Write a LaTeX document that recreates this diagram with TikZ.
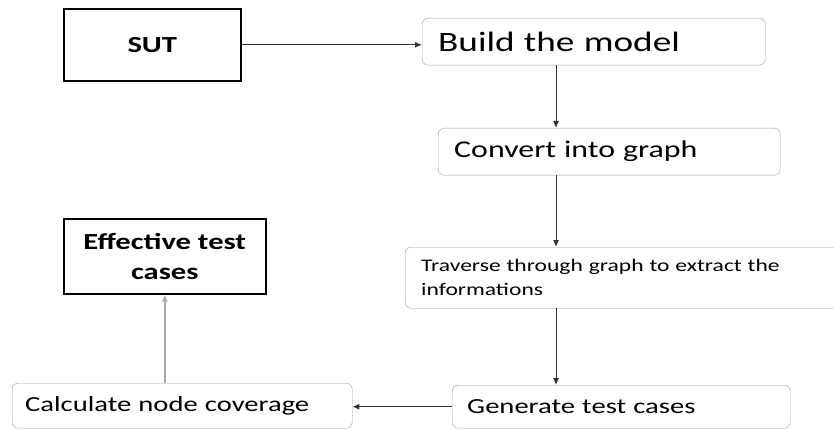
\documentclass[tikz,border=0pt]{standalone}
\usepackage{fontspec}
\setmainfont[FakeStretch=1.33]{Carlito}
\usetikzlibrary{arrows.meta,positioning}

\begin{document}
\begin{tikzpicture}[x=1pt,y=-1pt,
    >={Latex[length=7pt,width=6pt]},
    stage/.style={draw=gray!80, rounded corners=6pt, anchor=north west, align=left, inner xsep=16pt, inner ysep=0pt},
    ends/.style={draw, line width=1.6pt, anchor=north west, align=center, inner sep=0pt, font=\bfseries\fontsize{23}{30}\selectfont},
    link/.style={->, line width=1pt, draw=black!80}]
  \useasboundingbox (0,0) rectangle (834,430);
  \coordinate (spine) at (556,0);
  \node[ends, minimum width=177pt, minimum height=72pt] (sut) at (63,8) {SUT};
  \node[stage, text width=311pt, minimum height=47pt, font=\fontsize{28}{30}\selectfont] (build) at (422,18) {Build the model};
  \node[stage, text width=310pt, minimum height=47pt, font=\fontsize{24}{28}\selectfont] (conv) at (438,128) {Convert into graph};
  \node[stage, text width=413pt, minimum height=61pt, font=\fontsize{17.7}{24}\selectfont] (trav) at (405,247) {Traverse through graph to extract the\\informations};
  \node[stage, text width=308pt, minimum height=43pt, inner xsep=15pt, font=\fontsize{21.5}{26}\selectfont] (gen) at (452,385) {Generate test cases};
  \node[stage, text width=314pt, minimum height=45pt, inner xsep=13pt, font=\fontsize{21.5}{26}\selectfont] (calc) at (12,383) {Calculate node coverage};
  \node[ends, minimum width=202pt, minimum height=75pt] (eff) at (63,218) {Effective test\\cases};
  \draw[link] (sut.east) -- (sut.east -| build.west);
  \draw[link] (build.south -| spine) -- (conv.north -| spine);
  \draw[link] (conv.south -| spine) -- (trav.north -| spine);
  \draw[link] (trav.south -| spine) -- (gen.north -| spine);
  \draw[link] (gen.west) -- (gen.west -| calc.east);
  \draw[link, draw=gray!70, line width=2.5pt] (calc.north -| eff.south) -- (eff.south);
\end{tikzpicture}
\end{document}
